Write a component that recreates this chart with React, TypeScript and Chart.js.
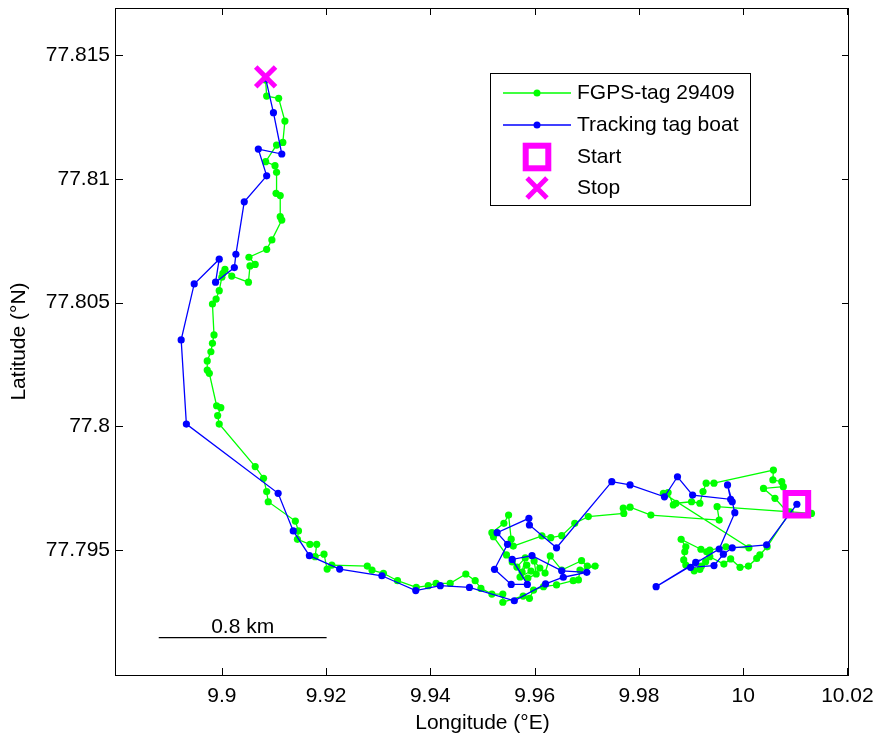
import React, { useEffect, useRef } from "react";
import { Chart, registerables } from "chart.js";
Chart.register(...registerables);

// FGPS-tag 29409 track (start -> stop)
const fgpsLon = [
  10.0131, 10.0084, 10.0061, 10.0039, 10.0077, 10.0074, 10.0057, 10.0058, 9.9944, 9.9929, 9.9923, 9.9917, 9.9901, 9.9871, 9.9866, 9.9856, 9.9847,
  10.0011, 9.9967, 9.9936, 9.993, 9.9919, 9.9881, 9.989, 9.9888, 9.9886, 9.989, 9.9906, 9.9917, 9.992, 9.9928, 9.9936, 9.9963, 9.9976, 9.9994, 10.001, 10.0026, 10.0032, 10.0046, 10.009,
  9.995, 9.9954, 9.9823, 9.9783, 9.977, 9.9771, 9.9703, 9.9677, 9.9652, 9.9631, 9.9614, 9.9559, 9.9555, 9.955, 9.9541, 9.9518, 9.9521, 9.9546,
  9.9557, 9.9566, 9.9582, 9.9576, 9.9585, 9.9593, 9.9572, 9.9587, 9.9603, 9.9599, 9.961, 9.962, 9.963,
  9.9652, 9.969, 9.9701, 9.9716, 9.9687, 9.9684, 9.9674, 9.9642, 9.9617, 9.9598, 9.959, 9.9578, 9.9539, 9.9539, 9.9518, 9.9497, 9.9486, 9.9468, 9.9438, 9.9411,
  9.9396, 9.9373, 9.9337, 9.931, 9.9288, 9.9279, 9.9211, 9.9202, 9.9196, 9.9179, 9.9182, 9.9169, 9.9145, 9.9147, 9.9141, 9.9089, 9.9086, 9.908, 9.9064,
  9.8995, 9.8992, 9.8998, 9.899, 9.8976, 9.8972, 9.8972, 9.8979, 9.8982, 9.8985, 9.8982, 9.8989, 9.8995, 9.9, 9.9002, 9.9006, 9.9019, 9.9051, 9.9054, 9.9064,
  9.9052, 9.9086, 9.9096, 9.9115, 9.9112, 9.9112, 9.9104, 9.9105, 9.9102, 9.9084, 9.9105, 9.9117, 9.9121, 9.9109, 9.9086, 9.9084,
];
const fgpsLat = [
  77.79648, 77.79655, 77.79709, 77.79749, 77.79756, 77.79776, 77.79783, 77.79823, 77.7977, 77.7977, 77.79736, 77.79689, 77.79695, 77.79689, 77.79682, 77.79732, 77.79729,
  77.79509, 77.79513, 77.795, 77.79493, 77.79503, 77.79543, 77.79513, 77.79493, 77.7946, 77.79439, 77.79416, 77.79422, 77.79435, 77.79453, 77.79473, 77.79443, 77.79464, 77.7943, 77.79435, 77.79466, 77.7948, 77.79513, 77.79654,
  77.79675, 77.79621, 77.79641, 77.79673, 77.79669, 77.79648, 77.79635, 77.79608, 77.79558, 77.7955, 77.79557, 77.79516, 77.79544, 77.79641, 77.79608, 77.7957, 77.79554, 77.7948,
  77.79452, 77.79431, 77.79468, 77.79411, 77.79439, 77.79415, 77.79391, 77.79387, 77.79403, 77.79456, 77.79427, 77.79407, 77.79476,
  77.79419, 77.79457, 77.79435, 77.79435, 77.79419, 77.79379, 77.79376, 77.79359, 77.79352, 77.79338, 77.79305, 77.79314, 77.79289, 77.79322, 77.79322, 77.79345, 77.79376, 77.79403, 77.79365, 77.79365,
  77.79356, 77.79349, 77.79376, 77.79406, 77.79419, 77.79435, 77.79439, 77.79423, 77.79483, 77.79473, 77.79523, 77.79523, 77.79543, 77.79577, 77.79617, 77.79695, 77.79736, 77.7979, 77.79837,
  77.80009, 77.80043, 77.80075, 77.80083, 77.80214, 77.80227, 77.80264, 77.80301, 77.80335, 77.80369, 77.80494, 77.80514, 77.80548, 77.80602, 77.80618, 77.80634, 77.80607, 77.80582, 77.80648, 77.80654,
  77.80683, 77.80715, 77.80753, 77.80833, 77.80847, 77.80932, 77.80941, 77.81026, 77.81053, 77.81069, 77.81136, 77.81147, 77.81233, 77.81325, 77.81334, 77.81399,
];

// Tracking tag boat (start -> stop)
const boatLon = [
  10.0103, 10.0045, 9.9979, 9.9962, 9.9944, 9.9899, 9.9909, 9.9833, 9.9954, 9.9984,
  9.9979, 9.997, 9.9976, 9.9903, 9.9874, 9.9849, 9.9783, 9.9748, 9.9642, 9.959,
  9.9589, 9.9528, 9.9548, 9.9523, 9.9555, 9.9586, 9.9557, 9.9595, 9.9652, 9.97,
  9.9655, 9.9621, 9.9561, 9.9475, 9.9419, 9.9372, 9.9307, 9.9226, 9.9168, 9.9137,
  9.9108, 9.8932, 9.8922, 9.8947, 9.8995, 9.8988, 9.9024, 9.9027, 9.9043, 9.9086,
  9.907, 9.9115, 9.9099, 9.9084,
];
const boatLat = [
  77.79685, 77.79521, 77.79509, 77.79483, 77.79437, 77.7943, 77.7945, 77.79352, 77.79504, 77.79651,
  77.79695, 77.79763, 77.79705, 77.79722, 77.79796, 77.79715, 77.79763, 77.79776, 77.79509, 77.79601,
  77.79628, 77.7957, 77.79523, 77.79422, 77.79361, 77.79361, 77.79462, 77.79477, 77.79416, 77.7941,
  77.7939, 77.79363, 77.79295, 77.79349, 77.79356, 77.79336, 77.79396, 77.79423, 77.79477, 77.79577,
  77.79729, 77.80009, 77.80349, 77.80575, 77.80675, 77.80582, 77.80641, 77.80695, 77.80907, 77.81012,
  77.8112, 77.811, 77.81267, 77.81406,
];

const startLon = [10.0103];
const startLat = [77.79685];
const stopLon = [9.9084];
const stopLat = [77.81412];

const xRange = [9.8797, 10.0203];
const yRange = [77.78995, 77.8169];
const xTickValues = [9.9, 9.92, 9.94, 9.96, 9.98, 10, 10.02];
const xTickLabels = ["9.9", "9.92", "9.94", "9.96", "9.98", "10", "10.02"];
const yTickValues = [77.795, 77.8, 77.805, 77.81, 77.815];
const yTickLabels = ["77.795", "77.8", "77.805", "77.81", "77.815"];

const scaleBarLon = [9.8879, 9.9201];
const scaleBarLat = [77.79146, 77.79146];
const scaleBarLabel = "0.8 km";
const scaleBarLabelLat = 77.7919;

const xTitle = "Longitude (\u00B0E)";
const yTitle = "Latitude (\u00B0N)";
const legendLabels = ["FGPS-tag 29409", "Tracking tag boat", "Start", "Stop"];

const GREEN = "#00ff00";
const BLUE = "#0000ff";
const MAGENTA = "#ff00ff";
const FONT = '"Liberation Sans", Arial, Helvetica, sans-serif';
const FS = 21;

const toPts = (xs: number[], ys: number[]) => xs.map((x, i) => ({ x, y: ys[i] }));

export default function App() {
  const ref = useRef<HTMLCanvasElement>(null);

  useEffect(() => {
    const canvas = ref.current!;
    const overlay = {
      id: "overlay",
      afterDraw(chart: any) {
        const { ctx, chartArea: a, scales } = chart;
        const x = scales.x;
        const y = scales.y;
        ctx.save();
        // frame
        ctx.strokeStyle = "#000";
        ctx.lineWidth = 1;
        ctx.strokeRect(a.left - 0.5, a.top + 0.5, a.right - a.left, a.bottom - a.top);
        // inward ticks on all sides
        const TL = 7;
        ctx.beginPath();
        xTickValues.forEach((v) => {
          const px = Math.round(x.getPixelForValue(v)) + 0.5;
          ctx.moveTo(px, a.bottom);
          ctx.lineTo(px, a.bottom - TL);
          ctx.moveTo(px, a.top);
          ctx.lineTo(px, a.top + TL);
        });
        yTickValues.forEach((v) => {
          const py = Math.round(y.getPixelForValue(v)) + 0.5;
          ctx.moveTo(a.left, py);
          ctx.lineTo(a.left + TL, py);
          ctx.moveTo(a.right, py);
          ctx.lineTo(a.right - TL, py);
        });
        ctx.stroke();

        // scale bar label
        ctx.fillStyle = "#000";
        ctx.font = `${FS}px ${FONT}`;
        ctx.textAlign = "center";
        ctx.textBaseline = "middle";
        const sbx = (x.getPixelForValue(scaleBarLon[0]) + x.getPixelForValue(scaleBarLon[1])) / 2;
        ctx.fillText(scaleBarLabel, sbx, y.getPixelForValue(scaleBarLabelLat));

        // axis titles
        ctx.fillText(xTitle, (a.left + a.right) / 2, 723);
        ctx.save();
        ctx.translate(19, (a.top + a.bottom) / 2);
        ctx.rotate(-Math.PI / 2);
        ctx.fillText(yTitle, 0, 0);
        ctx.restore();

        // legend
        const L = 490, T = 73, W = 260, H = 132;
        ctx.fillStyle = "#fff";
        ctx.fillRect(L, T, W, H);
        ctx.strokeStyle = "#000";
        ctx.lineWidth = 1;
        ctx.strokeRect(L + 0.5, T + 0.5, W, H);
        const rows = [93, 125, 157, 188];
        const sx0 = 503, sx1 = 571, sxc = 537, tx = 577;
        [GREEN, BLUE].forEach((c, i) => {
          ctx.strokeStyle = c;
          ctx.lineWidth = 1.3;
          ctx.beginPath();
          ctx.moveTo(sx0, rows[i]);
          ctx.lineTo(sx1, rows[i]);
          ctx.stroke();
          ctx.fillStyle = c;
          ctx.beginPath();
          ctx.arc(sxc, rows[i], 3.5, 0, Math.PI * 2);
          ctx.fill();
        });
        ctx.strokeStyle = MAGENTA;
        ctx.lineWidth = 6;
        ctx.strokeRect(sxc - 11.3, rows[2] - 11.3, 22.6, 22.6);
        ctx.lineWidth = 5;
        ctx.beginPath();
        ctx.moveTo(sxc - 9.9, rows[3] - 9.9);
        ctx.lineTo(sxc + 9.9, rows[3] + 9.9);
        ctx.moveTo(sxc + 9.9, rows[3] - 9.9);
        ctx.lineTo(sxc - 9.9, rows[3] + 9.9);
        ctx.stroke();
        ctx.fillStyle = "#000";
        ctx.font = `${FS}px ${FONT}`;
        ctx.textAlign = "left";
        ctx.textBaseline = "middle";
        legendLabels.forEach((t, i) => ctx.fillText(t, tx, rows[i]));
        ctx.restore();
      },
    };

    const chart = new Chart(canvas, {
      type: "scatter",
      data: {
        datasets: [
          {
            label: "Stop",
            data: toPts(stopLon, stopLat),
            pointStyle: "crossRot",
            pointRadius: 14,
            pointBorderWidth: 5,
            borderColor: MAGENTA,
            backgroundColor: MAGENTA,
            showLine: false,
            order: 0,
          },
          {
            label: "Start",
            data: toPts(startLon, startLat),
            pointStyle: "rect",
            pointRadius: 16,
            pointBorderWidth: 6,
            borderColor: MAGENTA,
            backgroundColor: "rgba(0,0,0,0)",
            showLine: false,
            order: 0,
          },
          {
            label: "Tracking tag boat",
            data: toPts(boatLon, boatLat),
            showLine: true,
            borderColor: BLUE,
            backgroundColor: BLUE,
            borderWidth: 1.3,
            pointRadius: 3.6,
            pointBorderWidth: 0,
            order: 1,
          },
          {
            label: "FGPS-tag 29409",
            data: toPts(fgpsLon, fgpsLat),
            showLine: true,
            borderColor: GREEN,
            backgroundColor: GREEN,
            borderWidth: 1.3,
            pointRadius: 3.6,
            pointBorderWidth: 0,
            order: 2,
          },
          {
            label: "scale",
            data: toPts(scaleBarLon, scaleBarLat),
            showLine: true,
            borderColor: "#000",
            borderWidth: 1.2,
            pointRadius: 0,
            order: 3,
          },
        ],
      },
      options: {
        animation: false,
        responsive: false,
        devicePixelRatio: 1,
        events: [],
        layout: { autoPadding: false, padding: { left: 0, right: 30, top: 8, bottom: 0 } },
        plugins: { legend: { display: false }, tooltip: { enabled: false } },
        scales: {
          x: {
            type: "linear",
            min: xRange[0],
            max: xRange[1],
            grid: { display: false, drawTicks: false },
            border: { display: false },
            ticks: {
              font: { family: FONT, size: FS },
              color: "#000",
              padding: 9,
              maxRotation: 0,
              autoSkip: false,
              callback: (_v: any, i: number) => xTickLabels[i],
            },
            afterBuildTicks: (s: any) => {
              s.ticks = xTickValues.map((v) => ({ value: v }));
            },
            afterFit: (s: any) => {
              s.height = 67;
              s.paddingLeft = 0;
              s.paddingRight = 0;
            },
          },
          y: {
            type: "linear",
            min: yRange[0],
            max: yRange[1],
            grid: { display: false, drawTicks: false },
            border: { display: false },
            ticks: {
              font: { family: FONT, size: FS },
              color: "#000",
              padding: 6,
              autoSkip: false,
              callback: (_v: any, i: number) => yTickLabels[i],
            },
            afterBuildTicks: (s: any) => {
              s.ticks = yTickValues.map((v) => ({ value: v }));
            },
            afterFit: (s: any) => {
              s.width = 116;
              s.paddingTop = 0;
              s.paddingBottom = 0;
            },
          },
        },
      },
      plugins: [overlay],
    } as any);
    return () => chart.destroy();
  }, []);

  return (
    <div style={{ position: "fixed", left: 0, top: 0, width: 879, height: 742, background: "#fff" }}>
      <canvas ref={ref} width={879} height={742} style={{ display: "block" }} />
    </div>
  );
}
